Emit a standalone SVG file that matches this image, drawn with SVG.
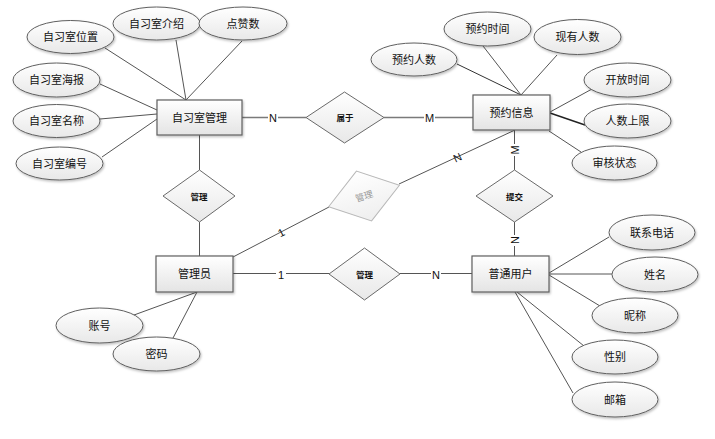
<svg xmlns="http://www.w3.org/2000/svg" width="715" height="439" viewBox="0 0 715 439">
<style>
  .ent rect { fill: url(#gEnt); stroke: #5f5f5f; stroke-width: 1.2; filter: url(#sh); }
  .att ellipse { fill: url(#gAtt); stroke: #5f5f5f; stroke-width: 1; filter: url(#sh); }
  .rel polygon { fill: url(#gAtt); stroke: #6a6a6a; stroke-width: 1; }
  .ghost polygon { fill: url(#gGhost); stroke: #b8b8b8; stroke-width: 1; }
  text { font-family: "Noto Sans CJK SC", "Liberation Sans", sans-serif; text-anchor: middle; fill: #111; }
  .lt { font-size: 11px; }
  .rt { font-size: 8.5px; font-weight: bold; }
  .gt { font-size: 9px; fill: #999; }
  .card { font-family: "Liberation Sans", sans-serif; font-size: 11px; fill: #111; }
  .cb { fill: #fff; }
  #connectors line { stroke: #555; stroke-width: 1; }
  #connectors line.rl { stroke: #7a7a7a; stroke-width: 1.5; }
</style>
<defs>
  <linearGradient id="gEnt" x1="0" y1="0" x2="0" y2="1">
    <stop offset="0" stop-color="#ffffff"/>
    <stop offset="1" stop-color="#e4e4e4"/>
  </linearGradient>
  <linearGradient id="gAtt" x1="0" y1="0" x2="0" y2="1">
    <stop offset="0" stop-color="#ffffff"/>
    <stop offset="1" stop-color="#e8e8e8"/>
  </linearGradient>
  <linearGradient id="gGhost" x1="0" y1="0" x2="0" y2="1">
    <stop offset="0" stop-color="#ffffff"/>
    <stop offset="1" stop-color="#eeeeee"/>
  </linearGradient>
  <filter id="sh" x="-20%" y="-20%" width="140%" height="150%">
    <feDropShadow dx="1" dy="1.5" stdDeviation="0.8" flood-color="#000" flood-opacity="0.25"/>
  </filter>
</defs>
<rect width="715" height="439" fill="#fff"/>

<g id="connectors">
  <!-- attributes of 自习室管理 -->
  <line x1="105" y1="48" x2="186" y2="100"/>
  <line x1="176" y1="40" x2="186" y2="100"/>
  <line x1="242" y1="41" x2="186" y2="100"/>
  <line x1="100" y1="84" x2="157" y2="110"/>
  <line x1="100" y1="119" x2="157" y2="114"/>
  <line x1="102" y1="157" x2="157" y2="119"/>
  <!-- attributes of 预约信息 -->
  <line x1="457" y1="64" x2="521" y2="95" style="stroke:#333"/>
  <line x1="483" y1="46" x2="521" y2="95"/>
  <line x1="557" y1="55" x2="521" y2="95"/>
  <line x1="592" y1="89" x2="550" y2="112"/>
  <line x1="585" y1="125" x2="550" y2="113" style="stroke:#222;stroke-width:1.4"/>
  <line x1="581" y1="152" x2="549" y2="131"/>
  <!-- attributes of 普通用户 -->
  <line x1="609" y1="237" x2="549" y2="273"/>
  <line x1="612" y1="274" x2="549" y2="274"/>
  <line x1="600" y1="306" x2="549" y2="275"/>
  <line x1="584" y1="346" x2="517" y2="292"/>
  <line x1="573" y1="393" x2="515" y2="292"/>
  <!-- attributes of 管理员 -->
  <line x1="134" y1="315" x2="197" y2="292"/>
  <line x1="173" y1="338" x2="197" y2="292"/>
  <!-- relationships -->
  <line class="rl" x1="242" y1="117.5" x2="306" y2="117.5"/>
  <line class="rl" x1="384" y1="117.5" x2="473" y2="117.5"/>
  <line x1="199.5" y1="135" x2="199.5" y2="170"/>
  <line x1="199.5" y1="222" x2="199.5" y2="256"/>
  <line x1="233" y1="257" x2="329" y2="207"/>
  <line x1="399" y1="184" x2="515" y2="130"/>
  <line x1="233" y1="273.5" x2="329" y2="273.5"/>
  <line x1="400" y1="273.5" x2="472" y2="273.5"/>
  <line x1="514.5" y1="130" x2="514.5" y2="170"/>
  <line x1="514.5" y1="222" x2="514.5" y2="256"/>
  <!-- cardinality labels -->
  <rect class="cb" x="268" y="111" width="10" height="13"/>
  <text class="card" x="273" y="122">N</text>
  <rect class="cb" x="424" y="111" width="11" height="13"/>
  <text class="card" x="429.5" y="122">M</text>
  <rect class="cb" x="508" y="144" width="13" height="12"/>
  <text class="card" transform="translate(519,150) rotate(-90)" x="0" y="0">M</text>
  <rect class="cb" x="508" y="235" width="13" height="11"/>
  <text class="card" transform="translate(518.5,240) rotate(-90)" x="0" y="0">N</text>
  <text class="card" transform="translate(283,236) rotate(-27)" x="0" y="0">1</text>
  <text class="card" transform="translate(459,161) rotate(-25)" x="0" y="0">N</text>
  <rect class="cb" x="276" y="268" width="10" height="13"/>
  <text class="card" x="281" y="279">1</text>
  <rect class="cb" x="431" y="268" width="10" height="13"/>
  <text class="card" x="436" y="279">N</text>
</g>

<g id="e-zixishi" class="ent">
  <rect x="157" y="100" width="85" height="35"/>
  <text class="lt" x="199.5" y="121.5">自习室管理</text>
</g>
<g id="e-yuyue" class="ent">
  <rect x="473" y="95" width="77" height="35"/>
  <text class="lt" x="511.5" y="116.5">预约信息</text>
</g>
<g id="e-admin" class="ent">
  <rect x="156" y="256" width="77" height="36"/>
  <text class="lt" x="194.5" y="278">管理员</text>
</g>
<g id="e-user" class="ent">
  <rect x="472" y="256" width="77" height="36"/>
  <text class="lt" x="510.5" y="278">普通用户</text>
</g>

<g id="r-shuyu" class="rel">
  <polygon points="306,117.5 344.5,92 384,117.5 344.5,143"/>
  <text class="rt" x="345" y="121">属于</text>
</g>
<g id="r-guanli1" class="rel">
  <polygon points="163,196 199.5,170 235,196 199.5,222"/>
  <text class="rt" x="199" y="199.5">管理</text>
</g>
<g id="r-guanli2" class="ghost" transform="translate(364,196) rotate(-17)">
  <polygon points="-37,0 0,-26 37,0 0,26"/>
  <text class="gt" x="0" y="3.5">管理</text>
</g>
<g id="r-guanli3" class="rel">
  <polygon points="329,274 364.5,248 400,274 364.5,300"/>
  <text class="rt" x="364.5" y="277.5">管理</text>
</g>
<g id="r-tijiao" class="rel">
  <polygon points="476,196 514.5,170 553,196 514.5,222"/>
  <text class="rt" x="514.5" y="199.5">提交</text>
</g>

<g id="a-weizhi" class="att"><ellipse cx="70.5" cy="37" rx="43.5" ry="16.5"/><text class="lt" x="70.5" y="41">自习室位置</text></g>
<g id="a-jieshao" class="att"><ellipse cx="156.5" cy="23.5" rx="43.5" ry="16.5"/><text class="lt" x="156.5" y="27.5">自习室介绍</text></g>
<g id="a-dianzan" class="att"><ellipse cx="243" cy="23.5" rx="44" ry="16.5"/><text class="lt" x="243" y="27.5">点赞数</text></g>
<g id="a-haibao" class="att"><ellipse cx="56.5" cy="80" rx="43.5" ry="17"/><text class="lt" x="56.5" y="84">自习室海报</text></g>
<g id="a-mingcheng" class="att"><ellipse cx="56.5" cy="121" rx="43.5" ry="16.5"/><text class="lt" x="56.5" y="125">自习室名称</text></g>
<g id="a-bianhao" class="att"><ellipse cx="59.5" cy="163.5" rx="43.5" ry="16.5"/><text class="lt" x="59.5" y="167.5">自习室编号</text></g>

<g id="a-yuyuerenshu" class="att"><ellipse cx="414" cy="59.5" rx="43" ry="16.5"/><text class="lt" x="414" y="63.5">预约人数</text></g>
<g id="a-yuyueshijian" class="att"><ellipse cx="487.5" cy="29" rx="43.5" ry="17"/><text class="lt" x="487.5" y="33">预约时间</text></g>
<g id="a-xianyou" class="att"><ellipse cx="577.5" cy="37" rx="43.5" ry="17.5"/><text class="lt" x="577.5" y="41">现有人数</text></g>
<g id="a-kaifang" class="att"><ellipse cx="627.5" cy="80" rx="43.5" ry="17"/><text class="lt" x="627.5" y="84">开放时间</text></g>
<g id="a-shangxian" class="att"><ellipse cx="627.5" cy="121" rx="43.5" ry="17"/><text class="lt" x="627.5" y="125">人数上限</text></g>
<g id="a-shenhe" class="att"><ellipse cx="614.5" cy="163" rx="42.5" ry="17"/><text class="lt" x="614.5" y="167">审核状态</text></g>

<g id="a-dianhua" class="att"><ellipse cx="652" cy="232.5" rx="43" ry="17.5"/><text class="lt" x="652" y="236.5">联系电话</text></g>
<g id="a-xingming" class="att"><ellipse cx="655" cy="274.5" rx="43" ry="17.5"/><text class="lt" x="655" y="278.5">姓名</text></g>
<g id="a-nicheng" class="att"><ellipse cx="635" cy="315.5" rx="43" ry="17.5"/><text class="lt" x="635" y="319.5">昵称</text></g>
<g id="a-xingbie" class="att"><ellipse cx="615" cy="357" rx="43" ry="17"/><text class="lt" x="615" y="361">性别</text></g>
<g id="a-youxiang" class="att"><ellipse cx="615" cy="399.5" rx="43" ry="17.5"/><text class="lt" x="615" y="403.5">邮箱</text></g>

<g id="a-zhanghao" class="att"><ellipse cx="99.5" cy="325.5" rx="43.5" ry="17.5"/><text class="lt" x="99.5" y="329.5">账号</text></g>
<g id="a-mima" class="att"><ellipse cx="156.5" cy="354" rx="43.5" ry="17"/><text class="lt" x="156.5" y="358">密码</text></g>
</svg>
